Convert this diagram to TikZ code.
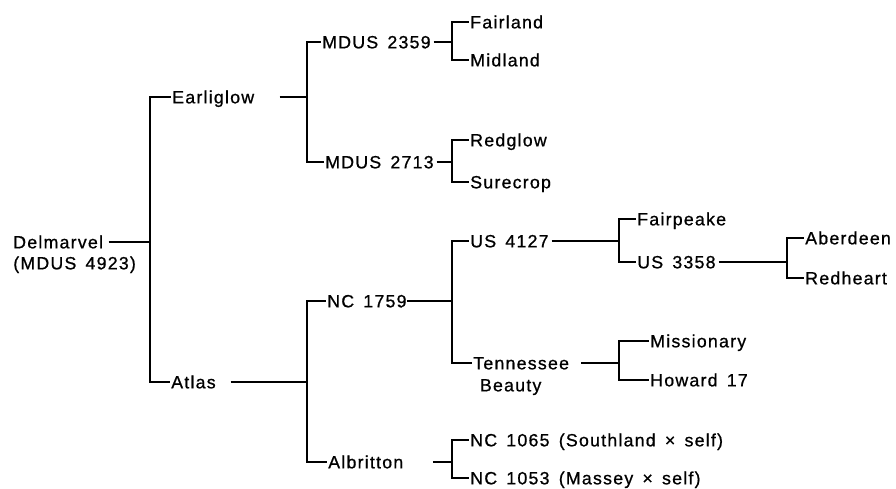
\documentclass[tikz,border=0pt]{standalone}
\usepackage{fontspec}
\setmainfont{Liberation Sans}[LetterSpace=7, WordSpace=1.5, FakeBold=0.8]
\usetikzlibrary{positioning}

\begin{document}
\begin{tikzpicture}[x=0.75pt, y=-0.75pt]
\tikzstyle{cultivar} = [anchor=west, inner sep=0pt, text height=9.5pt, text depth=0pt, font=\fontsize{13.3}{16}\selectfont]
\tikzstyle{line} = [draw, line width=1.1pt]
\tikzstyle{bracket} = [line, shorten <=1pt, shorten >=1pt]

\useasboundingbox (0,0) rectangle (896,489);

\coordinate (gen1) at (150,0);
\coordinate (gen2) at (307,0);
\coordinate (gen3) at (452,0);
\coordinate (gen4) at (619,0);
\coordinate (gen5) at (787,0);

\node [cultivar] (delmarvel) at (13,242) {Delmarvel};
\node [cultivar, below=15.75pt of delmarvel.west, anchor=west] (delmarvelId) {(MDUS 4923)};

\node [cultivar] (earliglow) at (172,97) {Earliglow};
\node [cultivar] (atlas) at (171,382) {Atlas};

\node [cultivar] (mdusA) at (322,42) {MDUS 2359};
\node [cultivar] (mdusB) at (325,162) {MDUS 2713};
\node [cultivar] (nc1759) at (327,301) {NC 1759};
\node [cultivar] (albritton) at (328,462) {Albritton};

\node [cultivar] (fairland) at (470,22) {Fairland};
\node [cultivar] (midland) at (470,60) {Midland};
\node [cultivar] (redglow) at (470,140) {Redglow};
\node [cultivar] (surecrop) at (470,182) {Surecrop};
\node [cultivar] (us4127) at (470,241) {US 4127};
\node [cultivar] (tennessee) at (473,363) {Tennessee};
\node [cultivar, below=16.5pt of tennessee.west, anchor=west, xshift=5pt] (beauty) {Beauty};
\node [cultivar] (nc1065) at (470,440) {NC 1065 (Southland × self)};
\node [cultivar] (nc1053) at (470,478) {NC 1053 (Massey × self)};

\node [cultivar] (fairpeake) at (637,219) {Fairpeake};
\node [cultivar] (us3358) at (637,262) {US 3358};
\node [cultivar] (missionary) at (650,341) {Missionary};
\node [cultivar] (howard) at (650,380) {Howard 17};

\node [cultivar] (aberdeen) at (805,238) {Aberdeen};
\node [cultivar] (redheart) at (805,278) {Redheart};

\path [line, shorten <=4pt] (delmarvel.east) -- (delmarvel.east -| gen1);
\path [bracket] (earliglow.west) -- (earliglow.west -| gen1) -- (atlas.west -| gen1) -- (atlas.west);

\path [line, shorten <=19pt] (earliglow.east) -- (earliglow.east -| gen2);
\path [bracket] (mdusA.west) -- (mdusA.west -| gen2) -- (mdusB.west -| gen2) -- (mdusB.west);
\path [line, shorten <=11pt] (atlas.east) -- (atlas.east -| gen2);
\path [bracket] (nc1759.west) -- (nc1759.west -| gen2) -- (albritton.west -| gen2) -- (albritton.west);

\path [line, shorten <=2pt] (mdusA.east) -- (mdusA.east -| gen3);
\path [bracket] (fairland.west) -- (fairland.west -| gen3) -- (midland.west -| gen3) -- (midland.west);
\path [line, shorten <=2pt] (mdusB.east) -- (mdusB.east -| gen3);
\path [bracket] (redglow.west) -- (redglow.west -| gen3) -- (surecrop.west -| gen3) -- (surecrop.west);
\path [line] (nc1759.east) -- (nc1759.east -| gen3);
\path [bracket] (us4127.west) -- (us4127.west -| gen3) -- (tennessee.west -| gen3) -- (tennessee.west);
\path [line, shorten <=22pt] (albritton.east) -- (albritton.east -| gen3);
\path [bracket] (nc1065.west) -- (nc1065.west -| gen3) -- (nc1053.west -| gen3) -- (nc1053.west);

\path [line, shorten <=2pt] (us4127.east) -- (us4127.east -| gen4);
\path [bracket] (fairpeake.west) -- (fairpeake.west -| gen4) -- (us3358.west -| gen4) -- (us3358.west);
\path [line, shorten <=9pt] (tennessee.east) -- (tennessee.east -| gen4);
\path [bracket] (missionary.west) -- (missionary.west -| gen4) -- (howard.west -| gen4) -- (howard.west);

\path [line, shorten <=2pt] (us3358.east) -- (us3358.east -| gen5);
\path [bracket] (aberdeen.west) -- (aberdeen.west -| gen5) -- (redheart.west -| gen5) -- (redheart.west);
\end{tikzpicture}
\end{document}
